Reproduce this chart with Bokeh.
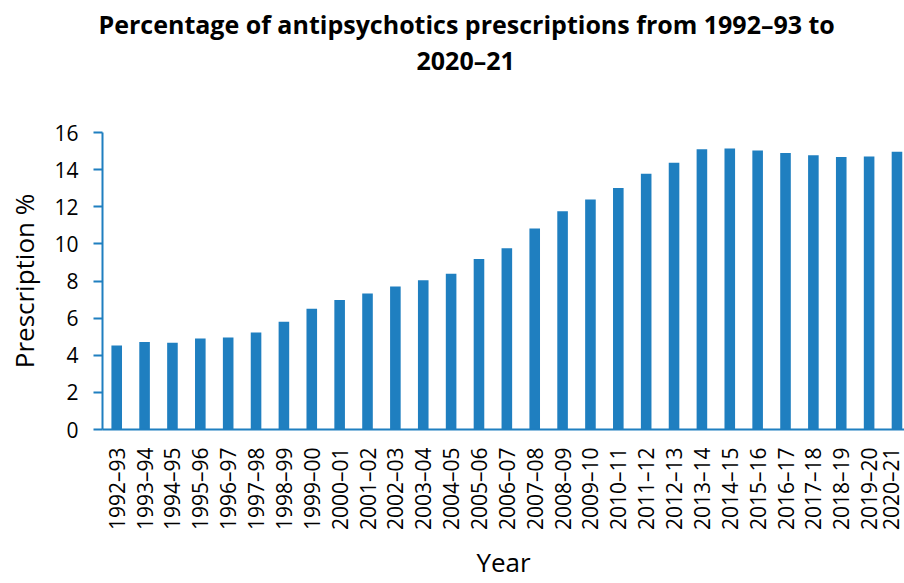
import math
from bokeh.plotting import figure
from bokeh.models import ColumnDataSource, FixedTicker, Range1d, Title
from bokeh.embed import file_html
from bokeh.resources import INLINE

years = ["1992–93", "1993–94", "1994–95", "1995–96", "1996–97", "1997–98", "1998–99",
         "1999–00", "2000–01", "2001–02", "2002–03", "2003–04", "2004–05", "2005–06",
         "2006–07", "2007–08", "2008–09", "2009–10", "2010–11", "2011–12", "2012–13",
         "2013–14", "2014–15", "2015–16", "2016–17", "2017–18", "2018–19", "2019–20",
         "2020–21"]
prescription_pct = [4.53, 4.71, 4.67, 4.90, 4.96, 5.22, 5.81, 6.51, 6.98, 7.32, 7.71,
                    8.04, 8.39, 9.18, 9.77, 10.83, 11.76, 12.39, 13.01, 13.78, 14.37,
                    15.10, 15.14, 15.03, 14.89, 14.77, 14.68, 14.71, 14.96]
y_ticks = [0, 2, 4, 6, 8, 10, 12, 14, 16]
title_lines = ["Percentage of antipsychotics prescriptions from 1992–93 to", "2020–21"]

BLUE = "#1F7FC0"
FONT = "Open Sans"

idx = list(range(1, len(years) + 1))
src = ColumnDataSource(dict(x=idx, y=prescription_pct, label=years))

p = figure(width=904, height=583, output_backend="svg", toolbar_location=None,
           x_range=Range1d(0.49, 29.27), y_range=Range1d(0, 16),
           min_border_left=102, min_border_right=0, min_border_bottom=153, min_border_top=132)

p.vbar(x="x", top="y", width=0.38, source=src, fill_color=BLUE, line_color=None)

p.outline_line_color = None
p.xgrid.grid_line_color = None
p.ygrid.grid_line_color = None
p.background_fill_color = "white"
p.border_fill_color = "white"

# y axis
p.yaxis.ticker = FixedTicker(ticks=y_ticks)
p.yaxis.axis_line_color = BLUE
p.yaxis.axis_line_width = 2
p.yaxis.major_tick_line_color = BLUE
p.yaxis.major_tick_line_width = 2
p.yaxis.major_tick_out = 9
p.yaxis.major_tick_in = 0
p.yaxis.minor_tick_line_color = None
p.yaxis.major_label_text_font = FONT
p.yaxis.major_label_text_font_size = "21px"
p.yaxis.major_label_text_color = "black"
p.yaxis.major_label_standoff = 15
p.yaxis.axis_label = "Prescription %"
p.yaxis.axis_label_text_font = FONT
p.yaxis.axis_label_text_font_size = "26px"
p.yaxis.axis_label_text_font_style = "normal"
p.yaxis.axis_label_text_color = "black"
p.yaxis.axis_label_standoff = 9

# x axis
p.xaxis.ticker = FixedTicker(ticks=idx)
p.xaxis.major_label_overrides = {i: y for i, y in zip(idx, years)}
p.xaxis.major_label_orientation = math.pi / 2
p.xaxis.axis_line_color = BLUE
p.xaxis.axis_line_width = 2
p.xaxis.major_tick_out = 0
p.xaxis.major_tick_in = 0
p.xaxis.minor_tick_line_color = None
p.xaxis.major_label_text_font = FONT
p.xaxis.major_label_text_font_size = "21px"
p.xaxis.major_label_text_color = "black"
p.xaxis.major_label_standoff = 18
p.xaxis.axis_label = "Year"
p.xaxis.axis_label_text_font = FONT
p.xaxis.axis_label_text_font_size = "26px"
p.xaxis.axis_label_text_font_style = "normal"
p.xaxis.axis_label_text_color = "black"
p.xaxis.axis_label_standoff = 11

# two-line title, centred on the page; a blank spacer title sits next to the frame
p.add_layout(Title(text="\u00a0", standoff=20, text_font=FONT, text_font_size="25px"), "above")
p.add_layout(Title(text=title_lines[1], align="left", offset=314, standoff=0,
                   text_font=FONT, text_font_size="25px", text_font_style="bold",
                   text_color="black"), "above")
p.add_layout(Title(text=title_lines[0], align="left", offset=-4, standoff=0,
                   text_font=FONT, text_font_size="25px", text_font_style="bold",
                   text_color="black"), "above")

open("out.html", "w").write(file_html(p, INLINE))
